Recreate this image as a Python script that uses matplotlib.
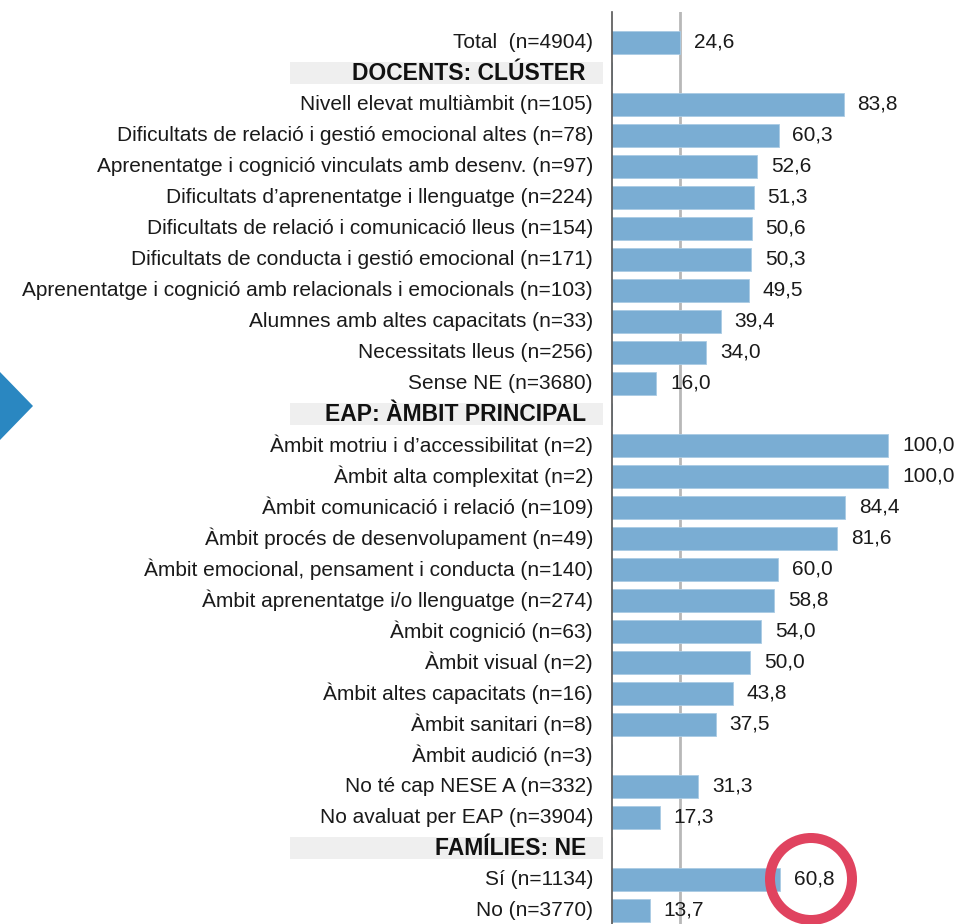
import numpy as np
import matplotlib
matplotlib.use('Agg')
import matplotlib.pyplot as plt
from matplotlib.patches import Rectangle, Polygon, Ellipse
from matplotlib.transforms import blended_transform_factory

plt.rcParams['font.family'] = ['Liberation Sans', 'DejaVu Sans']

# percentatges per grup
total_label = 'Total  (n=4904)'
total_value = 24.6

header_docents = 'DOCENTS: CLÚSTER'
cluster_labels = [
    'Nivell elevat multiàmbit (n=105)',
    'Dificultats de relació i gestió emocional altes (n=78)',
    'Aprenentatge i cognició vinculats amb desenv. (n=97)',
    'Dificultats d\u2019aprenentatge i llenguatge (n=224)',
    'Dificultats de relació i comunicació lleus (n=154)',
    'Dificultats de conducta i gestió emocional (n=171)',
    'Aprenentatge i cognició amb relacionals i emocionals (n=103)',
    'Alumnes amb altes capacitats (n=33)',
    'Necessitats lleus (n=256)',
    'Sense NE (n=3680)',
]
cluster_values = [83.8, 60.3, 52.6, 51.3, 50.6, 50.3, 49.5, 39.4, 34.0, 16.0]

header_eap = 'EAP: ÀMBIT PRINCIPAL'
ambit_labels = [
    'Àmbit motriu i d\u2019accessibilitat (n=2)',
    'Àmbit alta complexitat (n=2)',
    'Àmbit comunicació i relació (n=109)',
    'Àmbit procés de desenvolupament (n=49)',
    'Àmbit emocional, pensament i conducta (n=140)',
    'Àmbit aprenentatge i/o llenguatge (n=274)',
    'Àmbit cognició (n=63)',
    'Àmbit visual (n=2)',
    'Àmbit altes capacitats (n=16)',
    'Àmbit sanitari (n=8)',
    'Àmbit audició (n=3)',
    'No té cap NESE A (n=332)',
    'No avaluat per EAP (n=3904)',
]
ambit_values = [100.0, 100.0, 84.4, 81.6, 60.0, 58.8, 54.0, 50.0, 43.8, 37.5, np.nan, 31.3, 17.3]

header_families = 'FAMÍLIES: NE'
familia_labels = ['Sí (n=1134)', 'No (n=3770)']
familia_values = [60.8, 13.7]

# files: (etiqueta, valor, és capçalera)
rows = [(total_label, total_value, False), (header_docents, np.nan, True)]
rows += [(l, v, False) for l, v in zip(cluster_labels, cluster_values)]
rows += [(header_eap, np.nan, True)]
rows += [(l, v, False) for l, v in zip(ambit_labels, ambit_values)]
rows += [(header_families, np.nan, True)]
rows += [(l, v, False) for l, v in zip(familia_labels, familia_values)]

W, H = 957, 924
fig = plt.figure(figsize=(W / 100, H / 100), dpi=100)
ax = fig.add_axes([612 / W, 0, 1 - 612 / W, 1 - 12 / H])

n = len(rows)
ypos = np.arange(n)
vals = np.array([r[1] for r in rows])

ax.barh(ypos, np.nan_to_num(vals), height=0.74, color='#7aadd3',
        edgecolor='#a9cbe4', linewidth=0.6, zorder=2)
ax.axvline(total_value, color='#b8b8b8', lw=2, zorder=1)

ax.set_xlim(0, (W - 612) / 2.763)
ax.set_ylim(28.45, -0.97)
for s in ['top', 'right', 'bottom']:
    ax.spines[s].set_visible(False)
ax.spines['left'].set_color('#555555')
ax.spines['left'].set_linewidth(1.2)
ax.set_xticks([])
ax.set_yticks([])

trans = blended_transform_factory(fig.transFigure, ax.transData)
for i, (label, v, header) in enumerate(rows):
    if header:
        ax.add_patch(Rectangle((290 / W, i - 0.355), (603 - 290) / W, 0.71,
                               transform=trans, facecolor='#efefef',
                               edgecolor='none', clip_on=False, zorder=0))
        ax.text(586 / W, i, label, transform=trans, ha='right', va='center',
                fontsize=16.5, fontweight='bold', color='#111111')
    else:
        ax.text(593 / W, i, label, transform=trans, ha='right', va='center',
                fontsize=15, color='#1a1a1a')
    if not np.isnan(v):
        ax.text(v + 5.0, i, f'{v:.1f}'.replace('.', ','), ha='left', va='center',
                fontsize=15, color='#1a1a1a', clip_on=False)

# fletxa blava al marge esquerre
fig.add_artist(Polygon([(0, 1 - 372 / H), (33 / W, 1 - 406 / H), (0, 1 - 440 / H)],
                       closed=True, transform=fig.transFigure,
                       facecolor='#2a87c1', edgecolor='none'))

# cercle vermell sobre el valor de famílies
fig.add_artist(Ellipse((811 / W, 1 - 879 / H), 82 / W, 82 / H,
                       transform=fig.transFigure, facecolor='none',
                       edgecolor='#e0435f', lw=7.2))

fig.savefig('out.png', dpi=100)
